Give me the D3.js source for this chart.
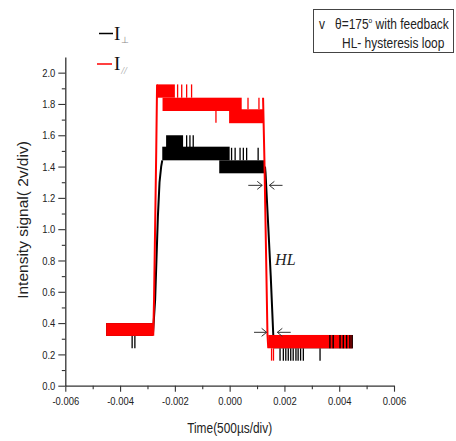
<!DOCTYPE html>
<html><head><meta charset="utf-8">
<script src="https://cdn.jsdelivr.net/npm/d3@7/dist/d3.min.js"></script>
<style>
body{margin:0;background:#fff;}
svg{display:block;}
.tick text{font-family:"Liberation Sans",Arial,sans-serif;font-size:11.5px;fill:#222;}
</style></head>
<body>
<svg id="c" width="456" height="441"></svg>
<script>
// ---- data ----
const xTicks = [-0.006, -0.004, -0.002, 0.000, 0.002, 0.004, 0.006];
const xTickLabels = ["-0.006", "-0.004", "-0.002", "0.000", "0.002", "0.004", "0.006"];
const xMinor = [-0.005, -0.003, -0.001, 0.001, 0.003, 0.005];
const yTicks = [0.0, 0.2, 0.4, 0.6, 0.8, 1.0, 1.2, 1.4, 1.6, 1.8, 2.0];
const yMinor = [0.1, 0.3, 0.5, 0.7, 0.9, 1.1, 1.3, 1.5, 1.7, 1.9];

// I_perp (black): noisy plateaus as [x0, x1, low, high]
const perpBands = [
  [-0.00451, -0.00279, 0.318, 0.400],
  [-0.00232, -0.00170, 1.520, 1.600],
  [-0.00246, 0.00000, 1.440, 1.527],
  [-0.00038, 0.00129, 1.357, 1.440],
  [0.00160, 0.00449, 0.239, 0.324]
];
// spikes [x, from, to]
const perpSpikes = [
  [-0.00157, 1.52, 1.60], [-0.00145, 1.52, 1.60], [-0.00133, 1.52, 1.60],
  [0.00007, 1.44, 1.52], [0.00020, 1.44, 1.52], [0.00038, 1.44, 1.52],
  [0.00050, 1.44, 1.52], [0.00062, 1.44, 1.52], [0.00104, 1.44, 1.52],
  [-0.00356, 0.318, 0.239], [-0.00346, 0.318, 0.239],
  [0.00184, 0.239, 0.160], [0.00196, 0.239, 0.160], [0.00205, 0.239, 0.160],
  [0.00214, 0.239, 0.160], [0.00223, 0.239, 0.160], [0.00232, 0.239, 0.160],
  [0.00242, 0.239, 0.160], [0.00250, 0.239, 0.160], [0.00259, 0.239, 0.160],
  [0.00269, 0.239, 0.160], [0.00330, 0.239, 0.160]
];
// black strokes visible over the red band at the right end
const perpTopSpikes = [
  [0.00366, 0.239, 0.324], [0.00378, 0.239, 0.324], [0.00403, 0.239, 0.324],
  [0.00415, 0.239, 0.324], [0.00427, 0.239, 0.324], [0.00439, 0.239, 0.324],
  [0.00447, 0.239, 0.324]
];
const perpRise = [[-0.00280, 0.33], [-0.00272, 0.55], [-0.00262, 1.08], [-0.00256, 1.30], [-0.00250, 1.40], [-0.00246, 1.44]];
const perpFall = [[0.00129, 1.40], [0.00131, 1.36], [0.00141, 1.016], [0.00150, 0.70], [0.00159, 0.335], [0.00161, 0.24]];

// I_par (red)
const parBands = [
  [-0.00451, -0.00279, 0.318, 0.400],
  [-0.00265, -0.00200, 1.840, 1.925],
  [-0.00245, 0.00044, 1.755, 1.840],
  [-0.00002, 0.00122, 1.677, 1.766],
  [0.00141, 0.00449, 0.239, 0.324]
];
const parSpikes = [
  [-0.00190, 1.84, 1.925], [-0.00175, 1.84, 1.925], [-0.00157, 1.84, 1.925], [-0.00139, 1.84, 1.925],
  [-0.00050, 1.76, 1.68],
  [0.00067, 1.766, 1.84], [0.00107, 1.766, 1.84],
  [0.00153, 0.239, 0.160], [0.00160, 0.239, 0.160]
];
const parRise = [[-0.00279, 0.32], [-0.00276, 0.55], [-0.00268, 1.50], [-0.00265, 1.925]];
const parFall = [[0.00122, 1.84], [0.00127, 1.44], [0.00138, 0.33], [0.00141, 0.24]];

// annotation arrows [xTail, xHead, y] and label
const arrows = [
  [0.00068, 0.00119, 1.28], [0.00193, 0.00145, 1.28],
  [0.00089, 0.00135, 0.341], [0.00223, 0.00174, 0.341]
];
const hlLabel = {x: 0.00166, y: 0.77, text: "HL"};

// ---- drawing ----
const NARROW = 0.82;
const svg = d3.select("#c");
const x = d3.scaleLinear().domain([-0.006, 0.006]).range([65.3, 394]);
const y = d3.scaleLinear().domain([0, 2.1]).range([385.7, 57]);

function drawSeries(bands, spikes, rise, fall, color) {
  const g = svg.append("g");
  g.selectAll("rect").data(bands).join("rect")
    .attr("x", d => x(d[0])).attr("width", d => x(d[1]) - x(d[0]))
    .attr("y", d => y(d[3])).attr("height", d => y(d[2]) - y(d[3]))
    .attr("fill", color);
  g.selectAll("line.sp").data(spikes).join("line").attr("class", "sp")
    .attr("x1", d => x(d[0])).attr("x2", d => x(d[0]))
    .attr("y1", d => y(d[1])).attr("y2", d => y(d[2]))
    .attr("stroke", color).attr("stroke-width", 1.3);
  const line = d3.line().x(d => x(d[0])).y(d => y(d[1]));
  [rise, fall].forEach(p => g.append("path").attr("d", line(p))
    .attr("fill", "none").attr("stroke", color).attr("stroke-width", 2));
}
drawSeries(perpBands, perpSpikes, perpRise, perpFall, "#000");
drawSeries(parBands, parSpikes, parRise, parFall, "#ff0000");
svg.append("g").selectAll("line").data(perpTopSpikes).join("line")
  .attr("x1", d => x(d[0])).attr("x2", d => x(d[0]))
  .attr("y1", d => y(d[1])).attr("y2", d => y(d[2]))
  .attr("stroke", "#000").attr("stroke-width", 1.4);

// axes
const axisColor = "#333";
const yAxis = svg.append("g").attr("transform", `translate(${x(-0.006)},0)`)
  .call(d3.axisLeft(y).tickValues(yTicks).tickFormat(d3.format(".1f")).tickSize(7).tickSizeOuter(0).tickPadding(3));
yAxis.selectAll(".tick text").attr("x", -10 / NARROW).attr("transform", `scale(${NARROW},1)`);
svg.append("g").attr("transform", `translate(${x(-0.006)},0)`)
  .call(d3.axisLeft(y).tickValues(yMinor).tickFormat("").tickSize(3.5).tickSizeOuter(0))
  .select(".domain").remove();
const xAxis = svg.append("g").attr("transform", `translate(0,${y(0)})`)
  .call(d3.axisBottom(x).tickValues(xTicks).tickFormat((d, i) => xTickLabels[i]).tickSize(6).tickSizeOuter(0).tickPadding(5));
xAxis.selectAll(".tick text").attr("transform", `scale(${NARROW},1)`);
svg.append("g").attr("transform", `translate(0,${y(0)})`)
  .call(d3.axisBottom(x).tickValues(xMinor).tickFormat("").tickSize(3.5).tickSizeOuter(0))
  .select(".domain").remove();
svg.selectAll(".domain").attr("stroke", axisColor).attr("stroke-width", 1.3);
svg.selectAll(".tick line").attr("stroke", axisColor).attr("stroke-width", 1.1);

// axis titles
svg.append("text").attr("transform", `translate(${x(0)},433) scale(${NARROW},1)`)
  .attr("text-anchor", "middle")
  .style("font-family", '"Liberation Sans",Arial,sans-serif')
  .style("font-size", "14.5px").attr("fill", "#222")
  .text("Time(500µs/div)");
svg.append("text").attr("transform", "translate(28,220) rotate(-90)")
  .attr("text-anchor", "middle")
  .style("font-family", '"Liberation Sans",Arial,sans-serif')
  .style("font-size", "15.5px").attr("fill", "#222")
  .text("Intensity signal( 2v/div)");

// arrows
const ag = svg.append("g").attr("stroke", "#333").attr("stroke-width", 1).attr("fill", "none");
arrows.forEach(a => {
  const x1 = x(a[0]), x2 = x(a[1]), yy = y(a[2]);
  const dir = Math.sign(x2 - x1);
  ag.append("line").attr("x1", x1).attr("x2", x2).attr("y1", yy).attr("y2", yy);
  ag.append("path").attr("d", `M${x2 - dir * 5},${yy - 4}L${x2},${yy}L${x2 - dir * 5},${yy + 4}`);
});
svg.append("text").attr("x", x(hlLabel.x)).attr("y", y(hlLabel.y))
  .style("font-family", '"Liberation Serif","Times New Roman",serif')
  .style("font-style", "italic").style("font-size", "16px").attr("fill", "#222")
  .text(hlLabel.text);

// series legend
const lg = svg.append("g");
lg.append("line").attr("x1", 99).attr("x2", 113).attr("y1", 33.5).attr("y2", 33.5).attr("stroke", "#000").attr("stroke-width", 1.5);
lg.append("line").attr("x1", 97).attr("x2", 112).attr("y1", 64).attr("y2", 64).attr("stroke", "#ff0000").attr("stroke-width", 1.5);
const t1 = lg.append("text").attr("x", 114).attr("y", 40).style("font-family", '"Liberation Serif",serif').style("font-size", "19px").attr("fill", "#111");
t1.append("tspan").text("I");
t1.append("tspan").attr("dx", 1).attr("dy", 3).style("font-size", "9px").attr("fill", "#888").text("⊥");
const t2 = lg.append("text").attr("x", 114).attr("y", 70).style("font-family", '"Liberation Serif",serif').style("font-size", "19px").attr("fill", "#111");
t2.append("tspan").text("I");
t2.append("tspan").attr("dx", 1).attr("dy", 4).style("font-size", "10px").style("font-style", "italic").attr("fill", "#999").text("//");

// box legend
const bg = svg.append("g").style("font-family", '"Liberation Sans",Arial,sans-serif').style("font-size", "14.6px").attr("fill", "#222");
bg.append("rect").attr("x", 313.5).attr("y", 9.5).attr("width", 140).attr("height", 43).attr("fill", "none").attr("stroke", "#444").attr("stroke-width", 1);
bg.append("text").attr("transform", `translate(319,29) scale(${NARROW},1)`).text("v");
const bt = bg.append("text").attr("transform", `translate(335,29) scale(${NARROW},1)`);
bt.append("tspan").text("θ=175");
bt.append("tspan").attr("dy", -6).style("font-size", "8px").text("o");
bt.append("tspan").attr("dy", 6).text(" with feedback");
bg.append("text").attr("transform", `translate(342,48) scale(${NARROW},1)`).text("HL- hysteresis loop");
</script>
</body></html>
